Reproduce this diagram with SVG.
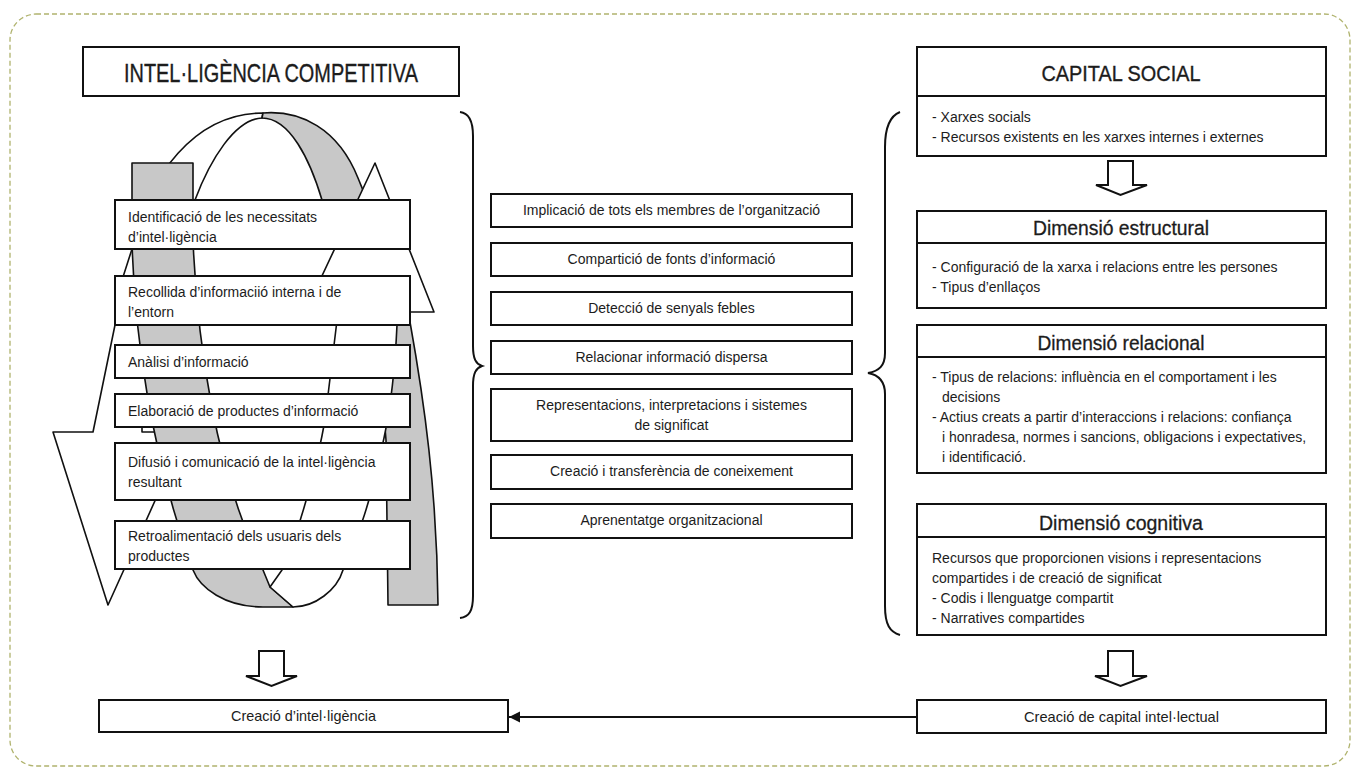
<svg xmlns="http://www.w3.org/2000/svg" width="1360" height="772" viewBox="0 0 1360 772">
<style>
.box{fill:#fff;stroke:#111;stroke-width:2}
.div{stroke:#111;stroke-width:2;fill:none}
.t{font-family:"Liberation Sans",Arial,sans-serif;font-size:14px;fill:#1c1c1c}
.c{text-anchor:middle}
.h1{font-size:25px;stroke:#1c1c1c;stroke-width:0.35}
.h2{font-size:20.5px;stroke:#1c1c1c;stroke-width:0.3}
.ln{stroke:#111;stroke-width:1.6;stroke-linejoin:round}
.w{fill:#fff}
.g{fill:#c8c8c8}
.hollow{fill:#fff;stroke:#111;stroke-width:2;stroke-linejoin:miter}
.brace{fill:none;stroke:#111;stroke-width:2}
.conn{stroke:#111;stroke-width:1.8;fill:none}
</style>
<defs>
<marker id="ah" markerUnits="userSpaceOnUse" markerWidth="12" markerHeight="12" refX="11" refY="5.5" orient="auto">
<path d="M0,0 L11,5.5 L0,11 Z" fill="#111"/>
</marker>
</defs>
<rect width="1360" height="772" fill="#fff"/>
<rect id="frame" x="10" y="14" width="1340" height="752" rx="26" ry="26" fill="none" stroke="#b0b36e" stroke-width="1.3" stroke-dasharray="5 3"/>

<g id="cycle-graphic">
<path class="ln w" d="M263,113 C195,113 148,175 132,249 L123,277 L115,325 L93,432 L53,432 L108,605 L186,432 L142,432 L142,427 C154,380 160,290 195,200 C210,160 235,119 262,118 Z"/>
<path class="ln g" d="M262,118 L263,113 C300,110 338,128 358,178 C380,232 402,285 410,322 C424,400 437,490 438,605 L388,605 L387,522 L386,440 C383,400 378,340 365,290 C352,250 335,225 322,200 C310,160 290,118 262,118 Z"/>
<path class="ln g" d="M132,163 L193,163 L193,240 C197,340 215,470 263,570 L270,587 L293,607 L263,607 C225,607 200,588 193,570 C150,450 134,330 132,240 Z"/>
<path class="ln w" d="M270,587 L282,570 C300,530 318,460 325,420 L338,312 L305,312 L375,163 L434,312 L398,312 L397,325 C395,370 390,410 384,438 C376,475 368,505 362,522 C356,542 350,558 343,570 C337,590 315,607 293,607 Z"/>
</g>

<g id="title-ic">
<rect class="box" x="83" y="47" width="376" height="49"/>
<text class="t c h1" x="271" y="82" textLength="294" lengthAdjust="spacingAndGlyphs">INTEL·LIGÈNCIA COMPETITIVA</text>
</g>

<g id="step-1">
<rect class="box" x="115" y="200" width="295" height="49"/>
<text class="t" x="128" y="222">Identificació de les necessitats</text>
<text class="t" x="128" y="242">d’intel·ligència</text>
</g>
<g id="step-2">
<rect class="box" x="115" y="276" width="295" height="49"/>
<text class="t" x="128" y="297">Recollida d’informaciió interna i de</text>
<text class="t" x="128" y="317">l’entorn</text>
</g>
<g id="step-3">
<rect class="box" x="115" y="345" width="295" height="33"/>
<text class="t" x="128" y="367">Anàlisi d’informació</text>
</g>
<g id="step-4">
<rect class="box" x="115" y="394" width="295" height="33"/>
<text class="t" x="128" y="416">Elaboració de productes d’informació</text>
</g>
<g id="step-5">
<rect class="box" x="115" y="443" width="295" height="57"/>
<text class="t" x="128" y="467">Difusió i comunicació de la intel·ligència</text>
<text class="t" x="128" y="487">resultant</text>
</g>
<g id="step-6">
<rect class="box" x="115" y="521" width="295" height="48"/>
<text class="t" x="128" y="541">Retroalimentació dels usuaris dels</text>
<text class="t" x="128" y="561">productes</text>
</g>

<g id="mid-1">
<rect class="box" x="491" y="194" width="361" height="33"/>
<text class="t c" x="671.5" y="215">Implicació de tots els membres de l’organització</text>
</g>
<g id="mid-2">
<rect class="box" x="491" y="243" width="361" height="33"/>
<text class="t c" x="671.5" y="264">Compartició de fonts d’informació</text>
</g>
<g id="mid-3">
<rect class="box" x="491" y="292" width="361" height="33"/>
<text class="t c" x="671.5" y="313">Detecció de senyals febles</text>
</g>
<g id="mid-4">
<rect class="box" x="491" y="341" width="361" height="33"/>
<text class="t c" x="671.5" y="362">Relacionar informació dispersa</text>
</g>
<g id="mid-5">
<rect class="box" x="491" y="389" width="361" height="52"/>
<text class="t c" x="671.5" y="410">Representacions, interpretacions i sistemes</text>
<text class="t c" x="671.5" y="430">de significat</text>
</g>
<g id="mid-6">
<rect class="box" x="491" y="455" width="361" height="34"/>
<text class="t c" x="671.5" y="476">Creació i transferència de coneixement</text>
</g>
<g id="mid-7">
<rect class="box" x="491" y="504" width="361" height="34"/>
<text class="t c" x="671.5" y="525">Aprenentatge organitzacional</text>
</g>

<g id="capital-social">
<rect class="box" x="917" y="47" width="409" height="109"/>
<line class="div" x1="917" y1="96" x2="1326" y2="96"/>
<text class="t c h1" x="1121" y="81" textLength="159" lengthAdjust="spacingAndGlyphs" style="font-size:22px">CAPITAL SOCIAL</text>
<text class="t" x="932" y="122">- Xarxes socials</text>
<text class="t" x="932" y="142">- Recursos existents en les xarxes internes i externes</text>
</g>
<g id="dim-estructural">
<rect class="box" x="917" y="211" width="409" height="97"/>
<line class="div" x1="917" y1="243" x2="1326" y2="243"/>
<text class="t c h2" x="1121" y="235" textLength="176" lengthAdjust="spacingAndGlyphs">Dimensió estructural</text>
<text class="t" x="932" y="272">- Configuració de la xarxa i relacions entre les persones</text>
<text class="t" x="932" y="292">- Tipus d’enllaços</text>
</g>
<g id="dim-relacional">
<rect class="box" x="917" y="325" width="409" height="148"/>
<line class="div" x1="917" y1="357" x2="1326" y2="357"/>
<text class="t c h2" x="1121" y="350" textLength="167" lengthAdjust="spacingAndGlyphs">Dimensió relacional</text>
<text class="t" x="932" y="382">- Tipus de relacions: influència en el comportament i les</text>
<text class="t" x="942" y="402">decisions</text>
<text class="t" x="932" y="422">- Actius creats a partir d’interaccions i relacions: confiança</text>
<text class="t" x="942" y="442">i honradesa, normes i sancions, obligacions i expectatives,</text>
<text class="t" x="942" y="462">i identificació.</text>
</g>
<g id="dim-cognitiva">
<rect class="box" x="917" y="504" width="409" height="131"/>
<line class="div" x1="917" y1="537" x2="1326" y2="537"/>
<text class="t c h2" x="1121" y="530" textLength="164" lengthAdjust="spacingAndGlyphs">Dimensió cognitiva</text>
<text class="t" x="932" y="563">Recursos que proporcionen visions i representacions</text>
<text class="t" x="932" y="583">compartides i de creació de significat</text>
<text class="t" x="932" y="603">- Codis i llenguatge compartit</text>
<text class="t" x="932" y="623">- Narratives compartides</text>
</g>

<g id="creacio-intelligencia">
<rect class="box" x="99" y="700" width="409" height="32"/>
<text class="t c" x="303.5" y="721" textLength="145" lengthAdjust="spacingAndGlyphs" style="font-size:14.5px">Creació d’intel·ligència</text>
</g>
<g id="creacio-capital">
<rect class="box" x="917" y="700" width="409" height="33"/>
<text class="t c" x="1121.5" y="722" textLength="195" lengthAdjust="spacingAndGlyphs" style="font-size:14.5px">Creació de capital intel·lectual</text>
</g>

<g id="connectors">
<path class="brace" d="M460,112 C469,113 473,121 473,136 L473,346 C473,359 476,364 482,366 C476,368 473,373 473,386 L473,596 C473,611 469,617 460,618"/>
<path class="brace" d="M900,112 C890,116 885,128 885,147 L885,353 C885,366 879,371 868,373 C879,375 885,381 885,394 L885,606 C885,625 890,632 900,635"/>
<path class="hollow" d="M1108,161 L1133,161 L1133,185 L1147,185 L1120.5,195 L1096,185 L1108,185 Z"/>
<path class="hollow" d="M259,651 L284,651 L284,676 L297,676 L271.5,686 L246,676 L259,676 Z"/>
<path class="hollow" d="M1108,651 L1133,651 L1133,676 L1147,676 L1120.5,686 L1095,676 L1108,676 Z"/>
<line class="conn" x1="917" y1="717" x2="509" y2="717" marker-end="url(#ah)"/>
</g>
</svg>
